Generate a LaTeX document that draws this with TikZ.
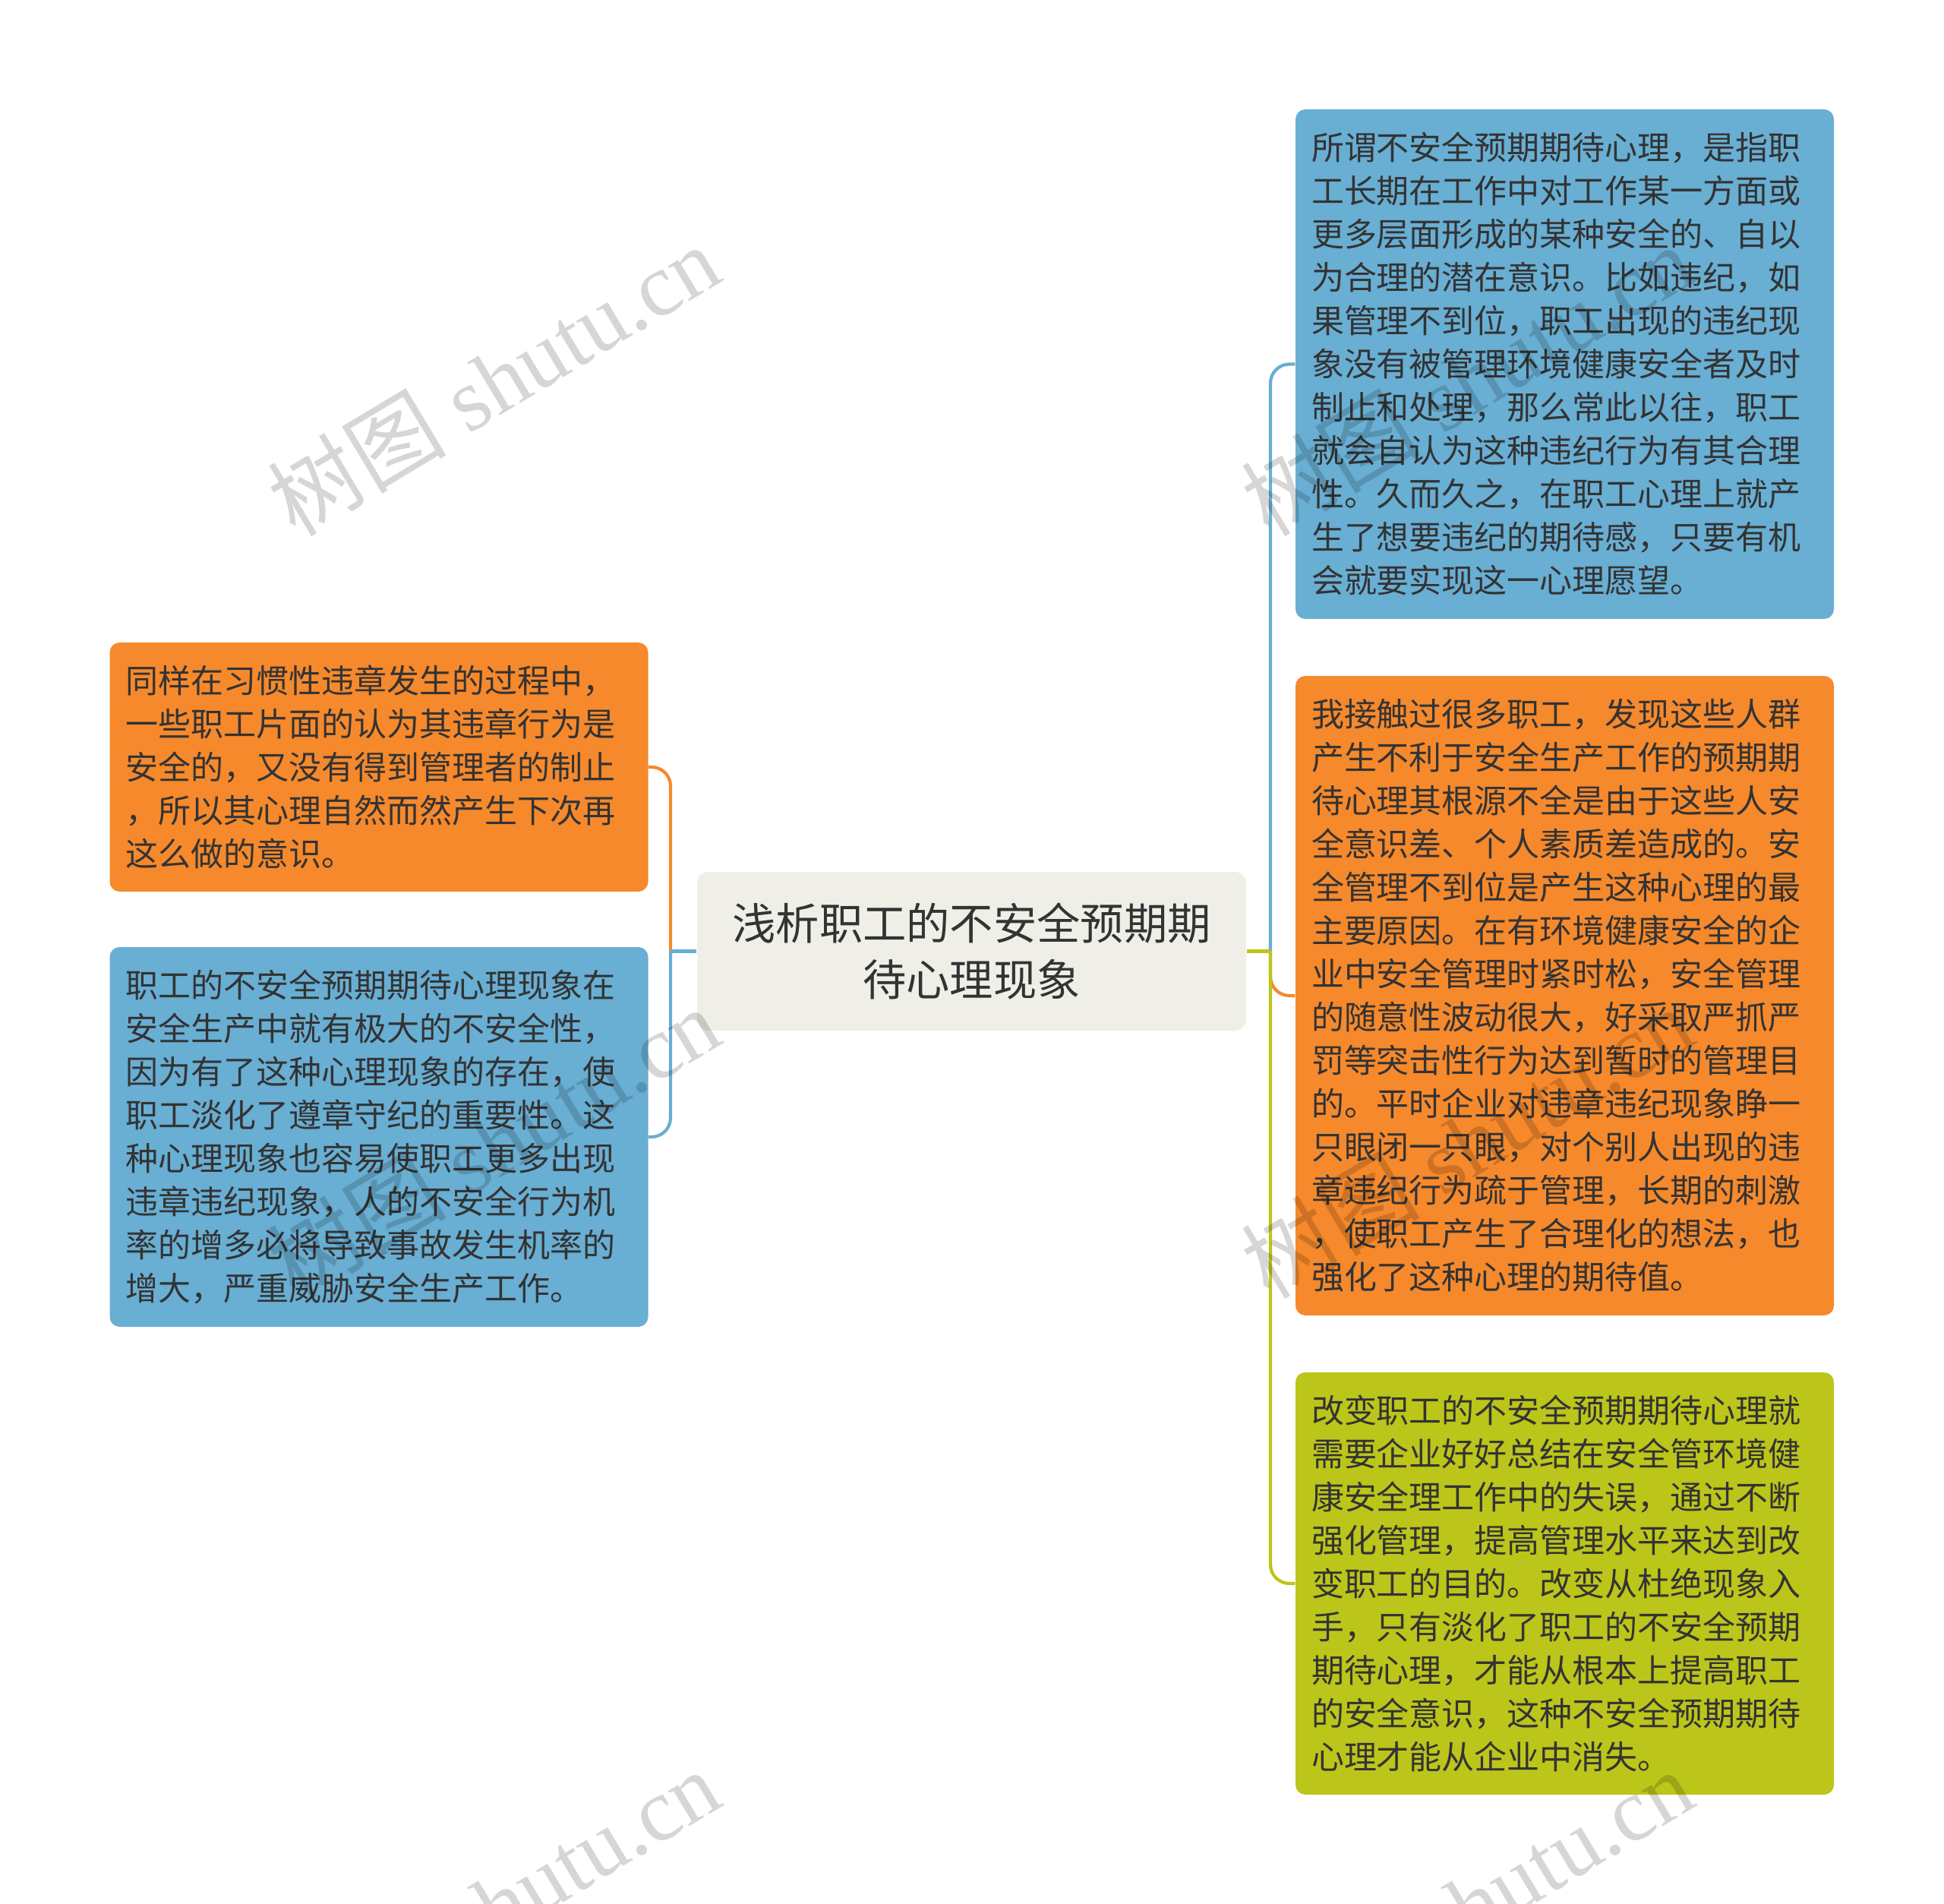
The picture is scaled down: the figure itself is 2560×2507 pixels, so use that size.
\documentclass[tikz,border=0pt]{standalone}
\usepackage{fontspec}
\newfontfamily\cjk{Noto Sans CJK SC}
\newfontfamily\wmlatin{Liberation Serif}
\definecolor{cblue}{HTML}{69AED3}
\definecolor{corange}{HTML}{F5892C}
\definecolor{cgreen}{HTML}{BCC51A}
\definecolor{cfill}{HTML}{EFEFE8}
\definecolor{txt}{HTML}{333333}
\newcommand{\boxfont}{\cjk\fontsize{12.23pt}{16.22pt}\selectfont}
\newcommand{\rootfont}{\cjk\fontsize{16.3pt}{20.9pt}\selectfont}
\tikzset{
  topicbox/.style={rounded corners=1.3mm, inner xsep=2.1mm, inner ysep=0pt,
    text width=66.7mm, align=left, font=\boxfont, text=txt, anchor=center},
  rootbox/.style={rounded corners=1.5mm, fill=cfill, minimum width=72.3mm,
    minimum height=20.9mm, align=center, font=\rootfont, text=txt, inner sep=0pt},
  conn/.style={line width=0.42mm, rounded corners=2.5mm},
  wmark/.style={rotate=31, text=black, opacity=0.16, font=\wmlatin\fontsize{33.5pt}{38pt}\selectfont, inner sep=0pt}
}
\begin{document}
\begin{tikzpicture}[x=0.1mm, y=-0.1mm]
\useasboundingbox (0,0) rectangle (2560,2507);
\clip (0,0) rectangle (2560,2507);
\fill[white] (0,0) rectangle (2560,2507);

% root
\node[rootbox] (C) at (1279.5,1252.5) {浅析职工的不安全预期期\\待心理现象};

% right boxes
\node[topicbox, fill=cblue, minimum height=67.1mm] (R1) at (2060.5,479.5) {所谓不安全预期期待心理，是指职\\工长期在工作中对工作某一方面或\\更多层面形成的某种安全的、自以\\为合理的潜在意识。比如违纪，如\\果管理不到位，职工出现的违纪现\\象没有被管理环境健康安全者及时\\制止和处理，那么常此以往，职工\\就会自认为这种违纪行为有其合理\\性。久而久之，在职工心理上就产\\生了想要违纪的期待感，只要有机\\会就要实现这一心理愿望。};
\node[topicbox, fill=corange, minimum height=84.2mm] (R2) at (2060.5,1311) {我接触过很多职工，发现这些人群\\产生不利于安全生产工作的预期期\\待心理其根源不全是由于这些人安\\全意识差、个人素质差造成的。安\\全管理不到位是产生这种心理的最\\主要原因。在有环境健康安全的企\\业中安全管理时紧时松，安全管理\\的随意性波动很大，好采取严抓严\\罚等突击性行为达到暂时的管理目\\的。平时企业对违章违纪现象睁一\\只眼闭一只眼，对个别人出现的违\\章违纪行为疏于管理，长期的刺激\\，使职工产生了合理化的想法，也\\强化了这种心理的期待值。};
\node[topicbox, fill=cgreen, minimum height=55.6mm] (R3) at (2060.5,2085) {改变职工的不安全预期期待心理就\\需要企业好好总结在安全管环境健\\康安全理工作中的失误，通过不断\\强化管理，提高管理水平来达到改\\变职工的目的。改变从杜绝现象入\\手，只有淡化了职工的不安全预期\\期待心理，才能从根本上提高职工\\的安全意识，这种不安全预期期待\\心理才能从企业中消失。};

% left boxes
\node[topicbox, fill=corange, minimum height=32.8mm] (L1) at (499,1010) {同样在习惯性违章发生的过程中，\\一些职工片面的认为其违章行为是\\安全的，又没有得到管理者的制止\\，所以其心理自然而然产生下次再\\这么做的意识。};
\node[topicbox, fill=cblue, minimum height=50mm] (L2) at (499,1497) {职工的不安全预期期待心理现象在\\安全生产中就有极大的不安全性，\\因为有了这种心理现象的存在，使\\职工淡化了遵章守纪的重要性。这\\种心理现象也容易使职工更多出现\\违章违纪现象，人的不安全行为机\\率的增多必将导致事故发生机率的\\增大，严重威胁安全生产工作。};

% junctions
\coordinate (jR) at (1673,1252.5);
\coordinate (jL) at (883,1252.5);

% right connectors
\draw[conn, cblue] (jR) |- (R1.west);
\draw[conn, corange] (jR) |- (R2.west);
\draw[conn, cgreen] (jR) |- (R3.west);
\draw[line width=0.42mm, cgreen] (C.east) -- (jR);

% left connectors
\draw[conn, corange] (jL) |- (L1.east);
\draw[conn, cblue] (jL) |- (L2.east);
\draw[line width=0.42mm, cblue] (C.west) -- (jL);

% watermarks
\foreach \wx/\wy [count=\i] in {650/500, 1932/500, 650/1504, 1932/1504, 650/2508, 1932/2508} {
  \node[wmark] (wm\i) at (\wx,\wy) {{\cjk 树图} shutu.cn};
}
\end{tikzpicture}
\end{document}
